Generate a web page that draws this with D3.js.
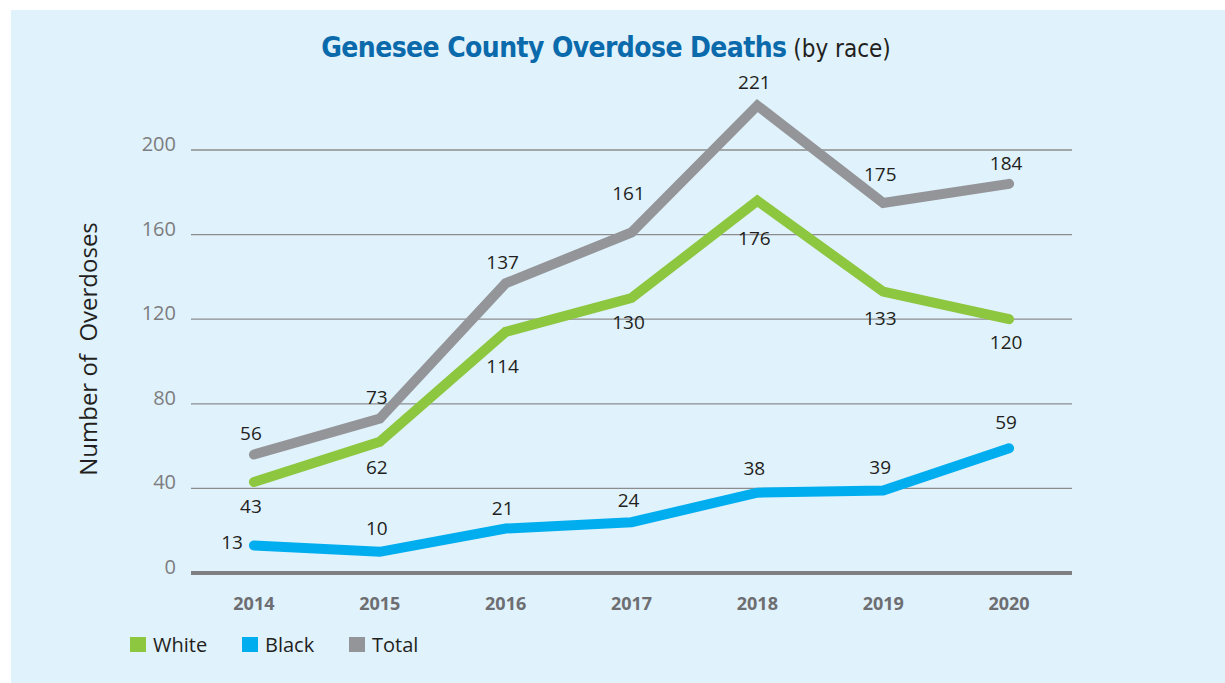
<!DOCTYPE html>
<html>
<head>
<meta charset="utf-8">
<script src="https://cdn.jsdelivr.net/npm/d3@7"></script>
<style>
    body { margin: 0; background: #fff; }
    svg { display: block; }
    text { font-family: "Open Sans", "Noto Sans", sans-serif; }
</style>
</head>
<body>
<div id="chart"></div>
<script>
// chart values
var years = ["2014", "2015", "2016", "2017", "2018", "2019", "2020"];
var white = [43, 62, 114, 130, 176, 133, 120];
var black = [13, 10, 21, 24, 38, 39, 59];
var total = [56, 73, 137, 161, 221, 175, 184];
var yTicks = [0, 40, 80, 120, 160, 200];
var seriesNames = ["White", "Black", "Total"];

var colors = {White: "#8dc63f", Black: "#00aeef", Total: "#939598"};

// how far each value label sits from its point (label centre, px)
var labelShift = {
    Total: [-22, -22, -21, -39, -24, -29, -21],
    White: [24, 25, 34, 24, 37, 26, 23],
    Black: [-4, -24, -21, -22, -25, -24, -26]
};

var width = 1225, height = 683;
var margin = {top: 150, right: 153, bottom: 110, left: 191};

var svg = d3.select("#chart")
    .append("svg")
    .attr("width", width)
    .attr("height", height);

// light blue panel
svg.append("rect")
    .attr("x", 11)
    .attr("y", 10)
    .attr("width", width - 11)
    .attr("height", height - 10)
    .attr("fill", "#e0f2fc");

var x = d3.scaleBand()
    .domain(years)
    .range([margin.left, width - margin.right]);

var y = d3.scaleLinear()
    .domain([0, 200])
    .range([573, 150]);

function cx(i) { return x(years[i]) + x.bandwidth() / 2; }

// gridlines
svg.append("g")
    .selectAll("line")
    .data(yTicks.filter(function (d) { return d > 0; }))
    .enter()
    .append("line")
    .attr("x1", margin.left)
    .attr("x2", width - margin.right)
    .attr("y1", function (d) { return y(d); })
    .attr("y2", function (d) { return y(d); })
    .attr("stroke", "#8c8c8e")
    .attr("stroke-width", 1.3);

// baseline
svg.append("line")
    .attr("x1", margin.left)
    .attr("x2", width - margin.right)
    .attr("y1", y(0))
    .attr("y2", y(0))
    .attr("stroke", "#808083")
    .attr("stroke-width", 4);

// y tick labels
svg.append("g")
    .selectAll("text")
    .data(yTicks)
    .enter()
    .append("text")
    .attr("x", 176)
    .attr("y", function (d) { return y(d) + 1; })
    .attr("text-anchor", "end")
    .attr("fill", "#7d7d7f")
    .style("font-size", "20px")
    .text(function (d) { return d; });

// x tick labels
svg.append("g")
    .selectAll("text")
    .data(years)
    .enter()
    .append("text")
    .attr("x", function (d, i) { return cx(i); })
    .attr("y", 610)
    .attr("text-anchor", "middle")
    .attr("fill", "#6d6e71")
    .style("font-size", "18px")
    .style("font-weight", "bold")
    .text(function (d) { return d; });

// y axis title
svg.append("text")
    .attr("transform", "translate(97,349) rotate(-90)")
    .attr("text-anchor", "middle")
    .attr("fill", "#231f20")
    .style("font-size", "24px")
    .style("white-space", "pre")
    .text("Number of  Overdoses");

// title
var title = svg.append("text")
    .attr("x", 606)
    .attr("y", 57)
    .attr("text-anchor", "middle");
title.append("tspan")
    .attr("fill", "#0a6aab")
    .style("font-weight", "bold")
    .style("font-size", "28px")
    .style("font-family", "'DejaVu Sans Condensed', 'Open Sans', sans-serif")
    .attr("letter-spacing", "-0.6")
    .text("Genesee County Overdose Deaths");
title.append("tspan")
    .attr("fill", "#231f20")
    .style("font-size", "24px")
    .style("font-family", "'DejaVu Sans Condensed', 'Open Sans', sans-serif")
    .text(" (by race)");

var line = d3.line()
    .x(function (d, i) { return cx(i); })
    .y(function (d) { return y(d); });

var seriesData = {White: white, Black: black, Total: total};

["Total", "White", "Black"].forEach(function (name) {
    svg.append("path")
        .datum(seriesData[name])
        .attr("d", line)
        .attr("fill", "none")
        .attr("stroke", colors[name])
        .attr("stroke-width", 10)
        .attr("stroke-linecap", "round")
        .attr("stroke-linejoin", "miter");
});

// value labels
["Total", "White", "Black"].forEach(function (name) {
    svg.append("g")
        .selectAll("text")
        .data(seriesData[name])
        .enter()
        .append("text")
        .attr("x", function (d, i) {
            // the first Black label sits to the left of the line start
            if (name === "Black" && i === 0) return cx(i) - 11;
            return cx(i) - 3;
        })
        .attr("y", function (d, i) { return y(d) + labelShift[name][i] + 7; })
        .attr("text-anchor", function (d, i) {
            return (name === "Black" && i === 0) ? "end" : "middle";
        })
        .attr("fill", "#231f20")
        .style("font-size", "19px")
        .text(function (d) { return d; });
});

// legend
var legendX = [130, 242, 349];
var legend = svg.append("g")
    .selectAll("g")
    .data(seriesNames)
    .enter()
    .append("g")
    .attr("transform", function (d, i) { return "translate(" + legendX[i] + ",637)"; });
legend.append("rect")
    .attr("width", 16)
    .attr("height", 15)
    .attr("fill", function (d) { return colors[d]; });
legend.append("text")
    .attr("x", 23)
    .attr("y", 15)
    .attr("fill", "#231f20")
    .style("font-size", "20px")
    .text(function (d) { return d; });
</script>
</body>
</html>
